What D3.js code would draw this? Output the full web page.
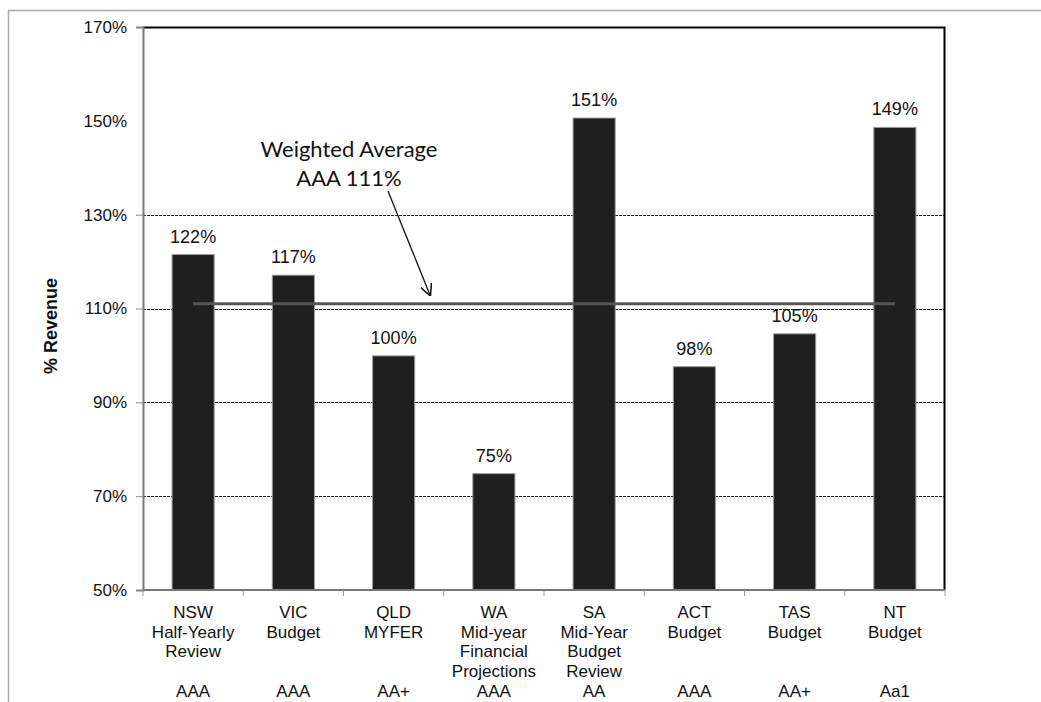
<!DOCTYPE html>
<html>
<head>
<meta charset="utf-8">
<script src="https://cdn.jsdelivr.net/npm/d3@7"></script>
<style>
  body { margin: 0; background: #fff; }
  text { font-family: "Liberation Sans", Arial, sans-serif; fill: #111; }
</style>
</head>
<body>
<div id="chart"></div>
<script>
var categories = ["NSW", "VIC", "QLD", "WA", "SA", "ACT", "TAS", "NT"];
var reports = [["Half-Yearly", "Review"], ["Budget"], ["MYFER"], ["Mid-year", "Financial", "Projections"],
               ["Mid-Year", "Budget", "Review"], ["Budget"], ["Budget"], ["Budget"]];
var ratings = ["AAA", "AAA", "AA+", "AAA", "AA", "AAA", "AA+", "Aa1"];
var values = [121.5, 117.1, 99.9, 74.8, 150.6, 97.6, 104.6, 148.6];
var valueLabels = ["122%", "117%", "100%", "75%", "151%", "98%", "105%", "149%"];
var weightedAverage = 111;
var yTicks = [50, 70, 90, 110, 130, 150, 170];
var gridTicks = [70, 90, 110, 130];

var svgWidth = 1041;
var svgHeight = 702;
var margin = {top: 27, right: 96, bottom: 112, left: 143};

var width = svgWidth - margin.left - margin.right;
var height = svgHeight - margin.top - margin.bottom;

var svg = d3.select("#chart")
    .append("svg")
    .attr("width", svgWidth)
    .attr("height", svgHeight);

// outer frame (top + left only, like the clipped slide)
svg.append("path")
    .attr("d", "M8.5,702 V10.5 H1041")
    .attr("fill", "none")
    .attr("stroke", "#aaa")
    .attr("stroke-width", 1.5);

var chartGroup = svg.append("g")
    .attr("transform", `translate(${margin.left}, ${margin.top})`);

var xScale = d3.scaleBand()
    .domain(categories)
    .range([0, width])
    .paddingInner(0.58)
    .paddingOuter(0.29);

var yScale = d3.scaleLinear()
    .domain([50, 170])
    .range([height, 0]);

// gridlines
chartGroup.selectAll(".grid")
    .data(gridTicks)
    .enter()
    .append("line")
    .attr("x1", 0)
    .attr("x2", width)
    .attr("y1", d => Math.round(yScale(d)) + 0.5)
    .attr("y2", d => Math.round(yScale(d)) + 0.5)
    .attr("stroke", "#222")
    .attr("stroke-width", 1)
    .attr("stroke-dasharray", "3,1");

// top and right border
chartGroup.append("path")
    .attr("d", `M0,0.5 H${width - 0.5} V${height}`)
    .attr("fill", "none")
    .attr("stroke", "#000")
    .attr("stroke-width", 2);

// bars
chartGroup.selectAll(".bar")
    .data(values)
    .enter()
    .append("rect")
    .attr("x", (d, i) => xScale(categories[i]))
    .attr("y", d => yScale(d))
    .attr("width", xScale.bandwidth())
    .attr("height", d => height - yScale(d))
    .attr("fill", "#1f1f1f")
    .attr("stroke", "#9a9a9a")
    .attr("stroke-width", 1);

// value labels
chartGroup.selectAll(".val")
    .data(values)
    .enter()
    .append("text")
    .attr("x", (d, i) => xScale(categories[i]) + xScale.bandwidth() / 2)
    .attr("y", d => yScale(d) - 12)
    .attr("text-anchor", "middle")
    .style("font-size", "18px")
    .text((d, i) => valueLabels[i]);

// weighted average line
var firstX = xScale(categories[0]) + xScale.bandwidth() / 2;
var lastX = xScale(categories[categories.length - 1]) + xScale.bandwidth() / 2;
chartGroup.append("line")
    .attr("x1", firstX)
    .attr("x2", lastX)
    .attr("y1", yScale(weightedAverage))
    .attr("y2", yScale(weightedAverage))
    .attr("stroke", "#555")
    .attr("stroke-width", 3);

// left y axis
var leftAxis = d3.axisLeft(yScale)
    .tickValues(yTicks)
    .tickSize(7)
    .tickPadding(9)
    .tickFormat(d => d + "%");

var yAxisG = chartGroup.append("g").call(leftAxis);
yAxisG.select(".domain").attr("stroke", "#777").attr("stroke-width", 2);
yAxisG.selectAll(".tick line").attr("stroke", "#888")
    .attr("display", d => d === 150 ? "none" : null);
yAxisG.selectAll(".tick text")
    .style("font-size", "17px")
    .style("font-family", "'Liberation Sans', Arial, sans-serif")
    .attr("fill", "#111");

// bottom axis with ticks at category boundaries
var boundaries = d3.range(categories.length + 1).map(i => i * xScale.step());
var bottomG = chartGroup.append("g").attr("transform", `translate(0, ${height})`);
bottomG.append("line")
    .attr("x1", 0).attr("x2", width)
    .attr("y1", 0).attr("y2", 0)
    .attr("stroke", "#777").attr("stroke-width", 2);
bottomG.selectAll(".btick")
    .data(boundaries)
    .enter()
    .append("line")
    .attr("x1", d => d).attr("x2", d => d)
    .attr("y1", 0).attr("y2", 6)
    .attr("stroke", "#999");

// category labels
var labelGroup = chartGroup.selectAll(".cat")
    .data(categories)
    .enter()
    .append("text")
    .attr("text-anchor", "middle")
    .style("font-size", "17px")
    .attr("transform", d => `translate(${xScale(d) + xScale.bandwidth() / 2}, ${height + 28})`);

labelGroup.each(function(d, i) {
    var lines = [d].concat(reports[i]);
    d3.select(this).selectAll("tspan")
        .data(lines)
        .enter()
        .append("tspan")
        .attr("x", 0)
        .attr("y", (l, j) => j * 19.5)
        .text(l => l);
});

chartGroup.selectAll(".rating")
    .data(ratings)
    .enter()
    .append("text")
    .attr("x", (d, i) => xScale(categories[i]) + xScale.bandwidth() / 2)
    .attr("y", height + 107)
    .attr("text-anchor", "middle")
    .style("font-size", "17px")
    .text(d => d);

// y axis title
svg.append("text")
    .attr("transform", "translate(57, 326) rotate(-90)")
    .attr("text-anchor", "middle")
    .style("font-size", "18px")
    .style("font-weight", "bold")
    .text("% Revenue");

// annotation
var note = svg.append("text")
    .attr("text-anchor", "middle")
    .style("font-family", "Lato, 'Open Sans', sans-serif")
    .style("font-size", "22px")
    .attr("fill", "#111");
note.append("tspan").attr("x", 349).attr("y", 157).text("Weighted Average");
note.append("tspan").attr("x", 349).attr("y", 186).text("AAA " + weightedAverage + "%");

svg.append("defs").append("marker")
    .attr("id", "arrow")
    .attr("viewBox", "0 0 10 10")
    .attr("refX", 9)
    .attr("refY", 5)
    .attr("markerWidth", 12)
    .attr("markerHeight", 12)
    .attr("markerUnits", "userSpaceOnUse")
    .attr("orient", "auto")
    .append("path")
    .attr("d", "M0,0 L10,5 L0,10")
    .attr("fill", "none")
    .attr("stroke", "#111")
    .attr("stroke-width", 1.3);

svg.append("line")
    .attr("x1", 388).attr("y1", 191)
    .attr("x2", 430).attr("y2", 295)
    .attr("stroke", "#111")
    .attr("stroke-width", 1.3)
    .attr("marker-end", "url(#arrow)");
</script>
</body>
</html>
